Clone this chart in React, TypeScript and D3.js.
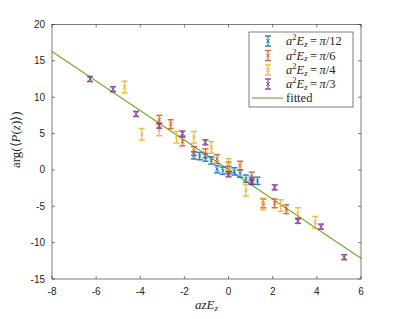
import { useEffect, useRef } from 'react';
import * as d3 from 'd3';

// x = a z E_z, y = arg(<P(z)>)
const BLUE_X = [-1.57, -1.31, -1.05, -0.785, -0.52, -0.26, 0, 0.26, 0.52, 0.785, 1.05, 1.31];
const BLUE_Y = [2.0, 1.9, 1.7, 1.3, 0.1, -0.1, 0.0, -0.2, -0.5, -1.2, -1.5, -1.5];
const RED_X = [-3.14, -2.62, -2.09, -1.57, -1.05, -0.52, 0, 0.52, 1.05, 1.57, 2.09, 2.62];
const RED_Y = [6.9, 6.3, 3.9, 2.6, 2.3, 1.5, 0.5, 0.6, -0.9, -4.6, -4.6, -5.4];
const YELLOW_X = [-4.71, -3.93, -3.14, -2.36, -1.57, -0.785, 0, 0.785, 1.57, 2.36, 3.14, 3.93];
const YELLOW_Y = [11.4, 4.9, 5.5, 4.5, 4.5, 3.1, 0.75, -2.8, -4.7, -4.9, -6.0, -7.2];
const PURPLE_X = [-6.28, -5.24, -4.19, -3.14, -2.09, -1.05, 0, 1.05, 2.09, 3.14, 4.19, 5.24];
const PURPLE_Y = [12.5, 11.1, 7.7, 6.1, 5.0, 3.8, -0.6, -1.6, -2.4, -7.0, -7.8, -12.0];

const SERIES = [
  { label: 'π/12', x: BLUE_X, y: BLUE_Y, err: 0.5, color: '#0072BD' },
  { label: 'π/6', x: RED_X, y: RED_Y, err: 0.6, color: '#D95319' },
  { label: 'π/4', x: YELLOW_X, y: YELLOW_Y, err: 0.8, color: '#EDB120' },
  { label: 'π/3', x: PURPLE_X, y: PURPLE_Y, err: 0.35, color: '#7E2F8E' },
];

const FIT_SLOPE = -2.03;
const FIT_INTERCEPT = 0.05;
const FIT_COLOR = '#77AC30';

const X_TICKS = [-8, -6, -4, -2, 0, 2, 4, 6];
const Y_TICKS = [-15, -10, -5, 0, 5, 10, 15, 20];

export default function App() {
  const svgRef = useRef<SVGSVGElement>(null);

  useEffect(() => {
    if (!svgRef.current) return;
    const svg = d3.select(svgRef.current);
    svg.selectAll('*').remove();

    const left = 52, right = 361, top = 24.5, bottom = 279;
    const xScale = d3.scaleLinear().domain([-8, 6]).range([left, right]);
    const yScale = d3.scaleLinear().domain([-15, 20]).range([bottom, top]);
    const axisColor = '#262626';
    const tickFont = '"Liberation Sans", Arial, sans-serif';
    const texFont = '"Liberation Serif", "Times New Roman", serif';

    svg.append('rect')
      .attr('x', left).attr('y', top)
      .attr('width', right - left).attr('height', bottom - top)
      .attr('fill', '#fff');

    const clip = svg.append('clipPath').attr('id', 'plotclip');
    clip.append('rect')
      .attr('x', left).attr('y', top)
      .attr('width', right - left).attr('height', bottom - top);

    const plot = svg.append('g').attr('clip-path', 'url(#plotclip)');

    // fitted line
    const [x0, x1] = xScale.domain();
    plot.append('line')
      .attr('x1', xScale(x0)).attr('y1', yScale(FIT_SLOPE * x0 + FIT_INTERCEPT))
      .attr('x2', xScale(x1)).attr('y2', yScale(FIT_SLOPE * x1 + FIT_INTERCEPT))
      .attr('stroke', FIT_COLOR).attr('stroke-width', 1.2);

    // error bars
    const cap = 3;
    const drawBar = (g: any, cx: number, yt: number, yb: number, cy: number, color: string) => {
      g.append('line').attr('x1', cx).attr('x2', cx).attr('y1', yt).attr('y2', yb)
        .attr('stroke', color).attr('stroke-width', 1.2);
      [yt, yb].forEach((yy) => {
        g.append('line').attr('x1', cx - cap).attr('x2', cx + cap).attr('y1', yy).attr('y2', yy)
          .attr('stroke', color).attr('stroke-width', 1.5);
      });
      g.append('path')
        .attr('d', `M${cx - 1.8},${cy - 1.8}L${cx + 1.8},${cy + 1.8}M${cx - 1.8},${cy + 1.8}L${cx + 1.8},${cy - 1.8}`)
        .attr('stroke', color).attr('stroke-width', 1);
    };
    SERIES.forEach((s) => {
      const g = plot.append('g').attr('opacity', 0.85);
      s.x.forEach((xv, i) => {
        const yv = s.y[i];
        drawBar(g, xScale(xv), yScale(yv + s.err), yScale(yv - s.err), yScale(yv), s.color);
      });
    });

    // box
    svg.append('rect')
      .attr('x', left).attr('y', top)
      .attr('width', right - left).attr('height', bottom - top)
      .attr('fill', 'none').attr('stroke', axisColor).attr('stroke-width', 0.6);

    // ticks
    const tl = 3;
    X_TICKS.forEach((t) => {
      const x = xScale(t);
      svg.append('line').attr('x1', x).attr('x2', x).attr('y1', bottom).attr('y2', bottom - tl)
        .attr('stroke', axisColor).attr('stroke-width', 0.6);
      svg.append('line').attr('x1', x).attr('x2', x).attr('y1', top).attr('y2', top + tl)
        .attr('stroke', axisColor).attr('stroke-width', 0.6);
      svg.append('text').attr('x', x).attr('y', bottom + 16)
        .attr('text-anchor', 'middle').attr('font-family', tickFont).attr('font-size', 10)
        .attr('fill', axisColor).text(t);
    });
    Y_TICKS.forEach((t) => {
      const y = yScale(t);
      svg.append('line').attr('x1', left).attr('x2', left + tl).attr('y1', y).attr('y2', y)
        .attr('stroke', axisColor).attr('stroke-width', 0.6);
      svg.append('line').attr('x1', right).attr('x2', right - tl).attr('y1', y).attr('y2', y)
        .attr('stroke', axisColor).attr('stroke-width', 0.6);
      svg.append('text').attr('x', left - 7).attr('y', y + 3.5)
        .attr('text-anchor', 'end').attr('font-family', tickFont).attr('font-size', 10)
        .attr('fill', axisColor).text(t);
    });

    // axis labels
    const xl = svg.append('text').attr('x', (left + right) / 2).attr('y', 309)
      .attr('text-anchor', 'middle').attr('font-family', texFont).attr('font-size', 13)
      .attr('fill', axisColor).attr('font-style', 'italic');
    xl.append('tspan').text('azE');
    xl.append('tspan').attr('font-size', 9).attr('dy', 2).text('z');

    svg.append('text')
      .attr('transform', `translate(20,${(top + bottom) / 2 - 12}) rotate(-90)`)
      .attr('text-anchor', 'middle').attr('font-family', texFont).attr('font-size', 13)
      .attr('fill', axisColor)
      .html('arg(⟨<tspan font-style="italic">P</tspan>(<tspan font-style="italic">z</tspan>)⟩)');

    // legend
    const lg = svg.append('g');
    lg.append('rect').attr('x', 249).attr('y', 32).attr('width', 104).attr('height', 75)
      .attr('fill', '#fff').attr('stroke', axisColor).attr('stroke-width', 0.6);
    const rowY = [41, 55.5, 70, 84, 98];
    SERIES.forEach((s, i) => {
      const cy = rowY[i];
      const g = lg.append('g').attr('opacity', 0.85);
      drawBar(g, 268, cy - 5, cy + 5, cy, s.color);
      const t = lg.append('text').attr('x', 286).attr('y', cy + 4)
        .attr('font-family', texFont).attr('font-size', 12.5).attr('fill', axisColor);
      t.append('tspan').attr('font-style', 'italic').text('a');
      t.append('tspan').attr('font-size', 8.5).attr('dy', -5).text('2');
      t.append('tspan').attr('font-style', 'italic').attr('dy', 5).text('E');
      t.append('tspan').attr('font-style', 'italic').attr('font-size', 8.5).attr('dy', 1.5).text('z');
      t.append('tspan').attr('dy', -1.5).text('\u2009=\u2009');
      t.append('tspan').attr('font-style', 'italic').text('π');
      t.append('tspan').text(s.label.slice(1));
    });
    lg.append('line').attr('x1', 252).attr('x2', 283).attr('y1', rowY[4]).attr('y2', rowY[4])
      .attr('stroke', FIT_COLOR).attr('stroke-width', 1.2);
    lg.append('text').attr('x', 286).attr('y', rowY[4] + 4)
      .attr('font-family', texFont).attr('font-size', 12.5).attr('fill', axisColor).text('fitted');
  }, []);

  return (
    <svg ref={svgRef} width={399} height={319}
      style={{ position: 'absolute', left: 0, top: 0, background: '#fff' }} />
  );
}
